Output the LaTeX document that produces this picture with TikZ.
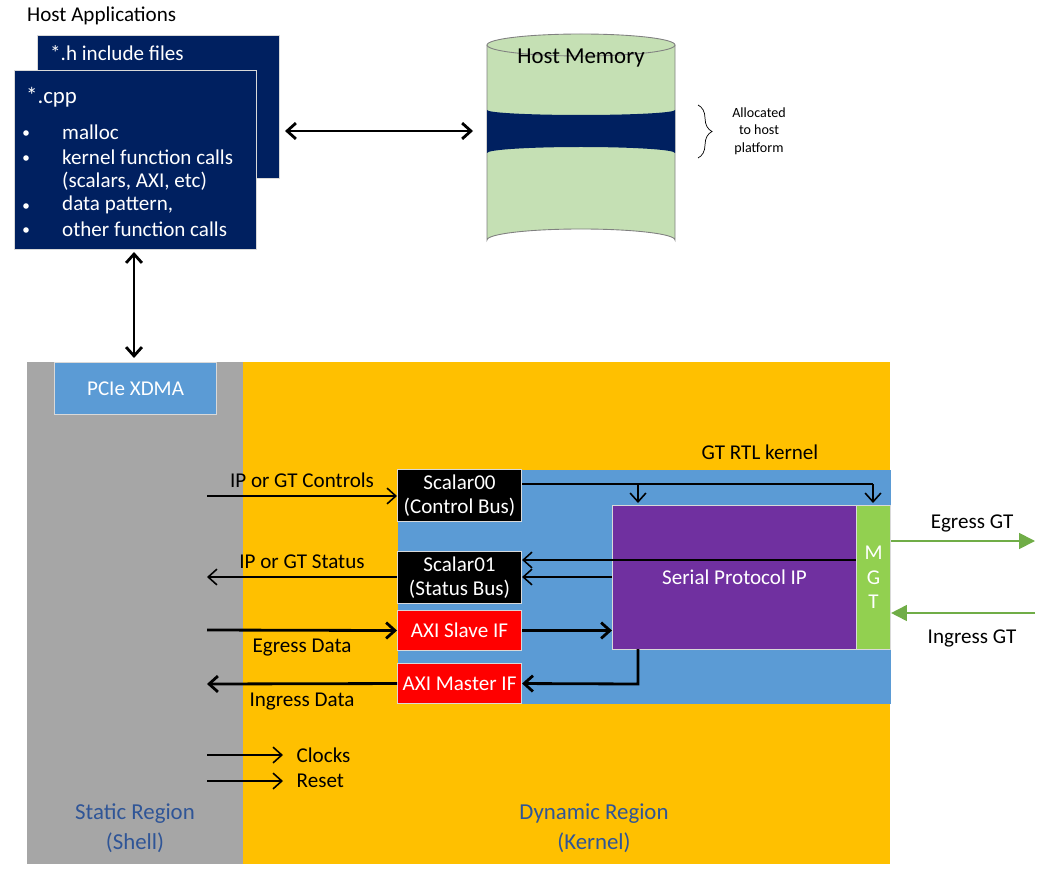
\documentclass[tikz,border=0pt]{standalone}
\usepackage{fontspec}
\setmainfont{Carlito}
\usetikzlibrary{arrows.meta,positioning,decorations.pathreplacing}
\definecolor{navy}{HTML}{002060}
\definecolor{memgreen}{HTML}{C5E0B4}
\definecolor{shellgrey}{HTML}{A6A6A6}
\definecolor{dynorange}{HTML}{FFC000}
\definecolor{kblue}{HTML}{5B9BD5}
\definecolor{ippurple}{HTML}{7030A0}
\definecolor{mgtgreen}{HTML}{92D050}
\definecolor{gtgreen}{HTML}{70AD47}
\definecolor{regtext}{HTML}{2F5597}
\tikzset{
  blk/.style={draw=white!85!black, line width=0.6pt, inner sep=0pt, anchor=north west, font=\fontsize{12}{14}\selectfont, align=center},
  sig/.style={-{Straight Barb[length=5pt,width=9pt]}, line width=0.9pt},
  bus/.style={sig, line width=1.6pt},
  lbl/.style={font=\fontsize{12}{14}\selectfont},
}
\begin{document}
\begin{tikzpicture}[x=0.02cm,y=-0.02cm]
\useasboundingbox (0,0) rectangle (1047,878);
% host side
\node[lbl, anchor=west] (hostapp) at (21,16) {Host Applications};
\node[blk, fill=navy, text=white, minimum width=242*0.02cm, minimum height=143*0.02cm] (hfiles) at (37,35) {};
\node[lbl, text=white, anchor=west] at (44,53) {*.h include files};
\node[blk, fill=navy, text=white, minimum width=242*0.02cm, minimum height=179*0.02cm] (cpp) at (14,70) {};
\node[text=white, anchor=west, font=\fontsize{13}{15}\selectfont] at (20,97) {*.cpp};
\foreach \y/\t in {132/{malloc}, 157/{kernel function calls}, 181/{(scalars, AXI, etc)}, 205/{data pattern,}, 229/{other function calls}}{
  \node[lbl, text=white, anchor=west] at (56,\y) {\t};
}
\foreach \y in {133,158,206,230}{ \fill[white] (26,\y) circle (2.8); }
% host memory
\fill[memgreen] (487,45) -- (487,240) arc[start angle=180,end angle=360,x radius=94,y radius=11] -- (675,45) -- cycle;
\draw[gray, line width=0.5pt] (487,45) -- (487,240) arc[start angle=180,end angle=360,x radius=94,y radius=11] -- (675,45);
\fill[navy] (487,110) -- (487,153) arc[start angle=180,end angle=360,x radius=94,y radius=6] -- (675,110) arc[start angle=0,end angle=180,x radius=94,y radius=5];
\draw[gray, fill=memgreen, line width=0.5pt] (581,45) ellipse[x radius=94,y radius=11];
\node[font=\fontsize{13}{15}\selectfont] (hostmem) at (581,58) {Host Memory};
\coordinate (memleft) at (473,131);
\draw[decorate, decoration={brace, amplitude=8pt}] (698,105) -- (698,158);
\node[align=center, font=\fontsize{8}{10}\selectfont] (alloc) at (759,131) {Allocated\\to host\\platform};
\coordinate (cppright) at (285,131);
\draw[bus, {Straight Barb[length=5pt,width=9pt]}-{Straight Barb[length=5pt,width=9pt]}] (cppright) -- (memleft);
% regions
\fill[shellgrey] (27,362) rectangle (243,864);
\fill[dynorange] (243,362) rectangle (890,864);
\node[blk, fill=kblue, text=white, minimum width=162*0.02cm, minimum height=52*0.02cm] (xdma) at (54,362) {PCIe XDMA};
\coordinate (cppbot) at (134,252);
\draw[bus, {Straight Barb[length=5pt,width=9pt]}-{Straight Barb[length=5pt,width=9pt]}] (cppbot) -- (134,358);
% kernel
\node[blk, fill=kblue, draw=none, minimum width=493*0.02cm, minimum height=234*0.02cm] (kernel) at (397,469) {};
\node[lbl] at (760,452) {GT RTL kernel};
\node[blk, fill=black, text=white, minimum width=124*0.02cm, minimum height=52*0.02cm] (sc0) at (397,469) {Scalar00\\(Control Bus)};
\node[blk, fill=black, text=white, minimum width=124*0.02cm, minimum height=52*0.02cm] (sc1) at (397,551) {Scalar01\\(Status Bus)};
\node[blk, fill=red, text=white, minimum width=124*0.02cm, minimum height=40*0.02cm] (slave) at (397,610) {AXI Slave IF};
\node[blk, fill=red, text=white, minimum width=124*0.02cm, minimum height=40*0.02cm] (master) at (397,663) {AXI Master IF};
\node[blk, fill=ippurple, text=white, minimum width=244*0.02cm, minimum height=144*0.02cm] (serial) at (612,505) {Serial Protocol IP};
\node[blk, fill=mgtgreen, text=white, minimum width=34*0.02cm, minimum height=144*0.02cm] (mgt) at (856,505) {M\\G\\T};
% kernel signals
\draw[line width=0.9pt] (sc0.east |- 0,484) -- (873,484);
\draw[sig] (638,484) -- (638,503);
\draw[sig] (873,484) -- (873,503);
\draw[sig] (mgt.west |- 0,560) -- (sc1.east |- 0,560);
\draw[sig] (serial.west |- 0,577) -- (sc1.east |- 0,577);
\draw[bus] (slave.east) -- (serial.west |- slave.east);
\draw[bus] (638,649) -- (638,684) -- (master.east);
% static side signals
\coordinate (ctlin) at (207,496);
\coordinate (stout) at (207,577);
\coordinate (egin) at (207,630);
\coordinate (ingout) at (207,684);
\draw[sig] (ctlin) -- (sc0.west |- ctlin) node[lbl, midway, above=1pt] {IP or GT Controls};
\draw[sig] (sc1.west |- stout) -- (stout) node[lbl, midway, above=1pt] {IP or GT Status};
\draw[bus] (egin) -- (slave.west) node[lbl, midway, below=1pt] {Egress Data};
\draw[bus] (master.west) -- (ingout) node[lbl, midway, below=1pt] {Ingress Data};
\coordinate (clk) at (207,755);
\coordinate (rst) at (207,781);
\draw[sig] (clk) -- ++(76,0) node[lbl, right=4pt] {Clocks};
\draw[sig] (rst) -- ++(76,0) node[lbl, right=4pt] {Reset};
% GT
\coordinate (egout) at (1035,541);
\coordinate (ingin) at (1035,613);
\draw[-{Triangle[length=9pt,width=9pt]}, gtgreen, line width=1pt] (mgt.east |- egout) -- (egout);
\draw[-{Triangle[length=9pt,width=9pt]}, gtgreen, line width=1pt] (ingin) -- (mgt.east |- ingin);
\node[lbl] at (972,523) {Egress GT};
\node[lbl] at (972,638) {Ingress GT};
% region labels
\node[align=center, text=regtext, font=\fontsize{13}{17}\selectfont] at (135,828) {Static Region\\(Shell)};
\node[align=center, text=regtext, font=\fontsize{13}{17}\selectfont] at (594,828) {Dynamic Region\\(Kernel)};
\end{tikzpicture}
\end{document}
